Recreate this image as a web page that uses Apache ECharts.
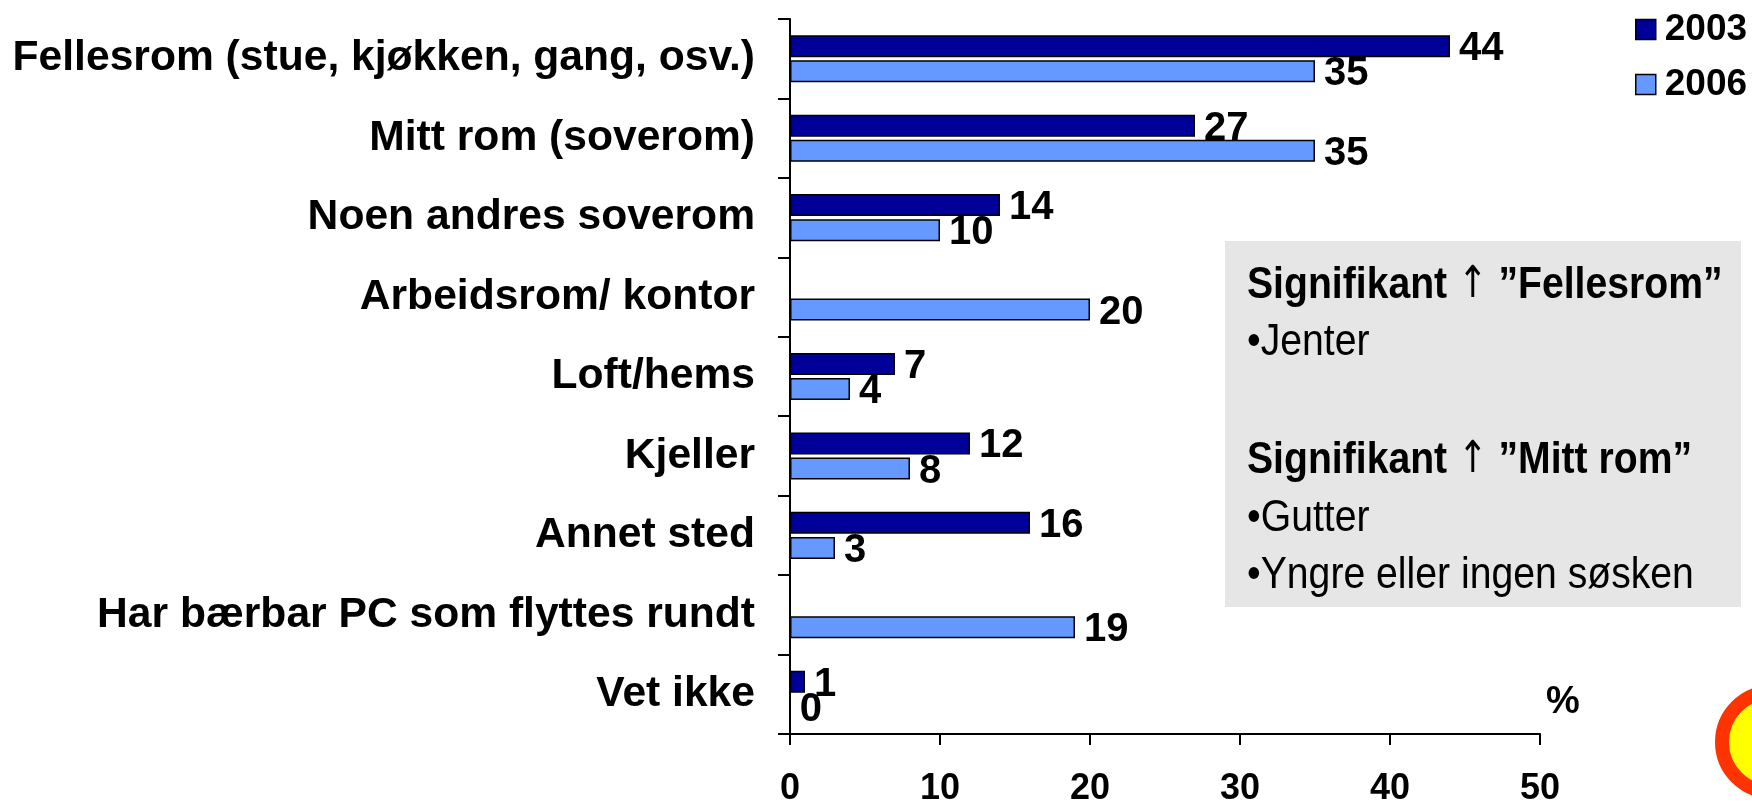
<!DOCTYPE html>
<html>
<head>
<meta charset="utf-8">
<script src="https://cdn.jsdelivr.net/npm/echarts@6/dist/echarts.min.js"></script>
<style>
html,body{margin:0;padding:0;background:#fff;}
#chart{width:1752px;height:803px;}
</style>
</head>
<body>
<div id="chart"></div>
<script>
const categories = [
  'Fellesrom (stue, kjøkken, gang, osv.)',
  'Mitt rom (soverom)',
  'Noen andres soverom',
  'Arbeidsrom/ kontor',
  'Loft/hems',
  'Kjeller',
  'Annet sted',
  'Har bærbar PC som flyttes rundt',
  'Vet ikke'
];
const values2003 = [44, 27, 14, null, 7, 12, 16, null, 1];
const values2006 = [35, 35, 10, 20, 4, 8, 3, 19, 0];
const seriesNames = ['2003', '2006'];
const xTicks = [0, 10, 20, 30, 40, 50];
const noteLines = [
  {pre: 'Signifikant ', post: ' \u201dFellesrom\u201d', bold: true},
  {pre: '\u2022Jenter', bold: false},
  {pre: 'Signifikant ', post: ' \u201dMitt rom\u201d', bold: true},
  {pre: '\u2022Gutter', bold: false},
  {pre: '\u2022Yngre eller ingen s\u00f8sken', bold: false}
];

const FONT = "'Liberation Sans', Arial, sans-serif";
const chart = echarts.init(document.getElementById('chart'), null, {renderer: 'canvas'});

const noteY = [286, 343, 461, 519, 576];
const noteGraphics = [{
  type: 'rect', shape: {x: 1225, y: 241, width: 516, height: 366},
  style: {fill: '#E6E6E6'}, z: 1
}].concat(noteLines.map((l, i) => ({
  type: 'text', x: 1247, y: noteY[i], z: 2, scaleX: 0.89,
  style: {
    text: l.bold ? '{b|' + l.pre + '}{a|\u2191}{b|' + l.post + '}' : '{r|' + l.pre + '}',
    rich: {
      b: {fontSize: 44, fontWeight: 'bold', fontFamily: FONT, fill: '#000', verticalAlign: 'bottom'},
      r: {fontSize: 44, fontWeight: 'normal', fontFamily: FONT, fill: '#000', verticalAlign: 'bottom'},
      a: {fontSize: 44, fontWeight: 'normal', fontFamily: "'DejaVu Sans Condensed', 'DejaVu Sans', sans-serif", fill: '#000', verticalAlign: 'bottom'}
    },
    verticalAlign: 'middle', align: 'left'
  }
})));

const labelCommon = {show: true, position: 'right', distance: 9, fontSize: 40, fontWeight: 'bold',
                     color: '#000', fontFamily: FONT, offset: [0, 3]};

const option = {
  backgroundColor: '#fff',
  animation: false,
  textStyle: {fontFamily: FONT},
  legend: {
    data: seriesNames,
    orient: 'vertical',
    left: 1630, top: 6,
    itemWidth: 20, itemHeight: 20, itemGap: 18,
    icon: 'rect',
    itemStyle: {borderColor: '#000', borderWidth: 1.5},
    textStyle: {fontSize: 37, fontWeight: 'bold', color: '#000', fontFamily: FONT, padding: [0, 0, 0, 4]}
  },
  grid: {left: 790, right: 212, top: 19, bottom: 69, containLabel: false, outerBoundsMode: 'none'},
  xAxis: {
    type: 'value', min: 0, max: 50, interval: 10,
    axisLine: {show: true, lineStyle: {color: '#000', width: 2}},
    axisTick: {show: true, length: 11, lineStyle: {color: '#000', width: 2}},
    splitLine: {show: false},
    axisLabel: {
      margin: 37, fontSize: 36, fontWeight: 'bold', color: '#000', fontFamily: FONT,
      formatter: v => xTicks.indexOf(v) >= 0 ? String(v) : ''
    }
  },
  yAxis: {
    type: 'category', data: categories, inverse: true,
    axisLine: {show: true, lineStyle: {color: '#000', width: 2}},
    axisTick: {show: true, length: 12, lineStyle: {color: '#000', width: 2}},
    axisLabel: {margin: 35, fontSize: 42.6, fontWeight: 'bold', color: '#000', fontFamily: FONT}
  },
  series: [
    {
      name: seriesNames[0], type: 'bar', data: values2003,
      barWidth: 22, barGap: '14%',
      itemStyle: {color: '#000099', borderColor: '#000', borderWidth: 1.5},
      label: labelCommon,
      z: 3
    },
    {
      name: seriesNames[1], type: 'bar', data: values2006,
      barWidth: 22, barGap: '14%',
      itemStyle: {color: '#6699FF', borderColor: '#000', borderWidth: 1.5},
      label: labelCommon,
      z: 3
    }
  ],
  graphic: noteGraphics.concat([
    {type: 'text', x: 1546, y: 703, z: 2,
     style: {text: '%', fill: '#000', font: 'bold 38px ' + FONT, verticalAlign: 'middle'}},
    {type: 'circle', shape: {cx: 1772, cy: 742, r: 50}, z: 2,
     style: {fill: '#FFFF00', stroke: '#FF3300', lineWidth: 14}}
  ])
};
chart.setOption(option);
</script>
</body>
</html>
